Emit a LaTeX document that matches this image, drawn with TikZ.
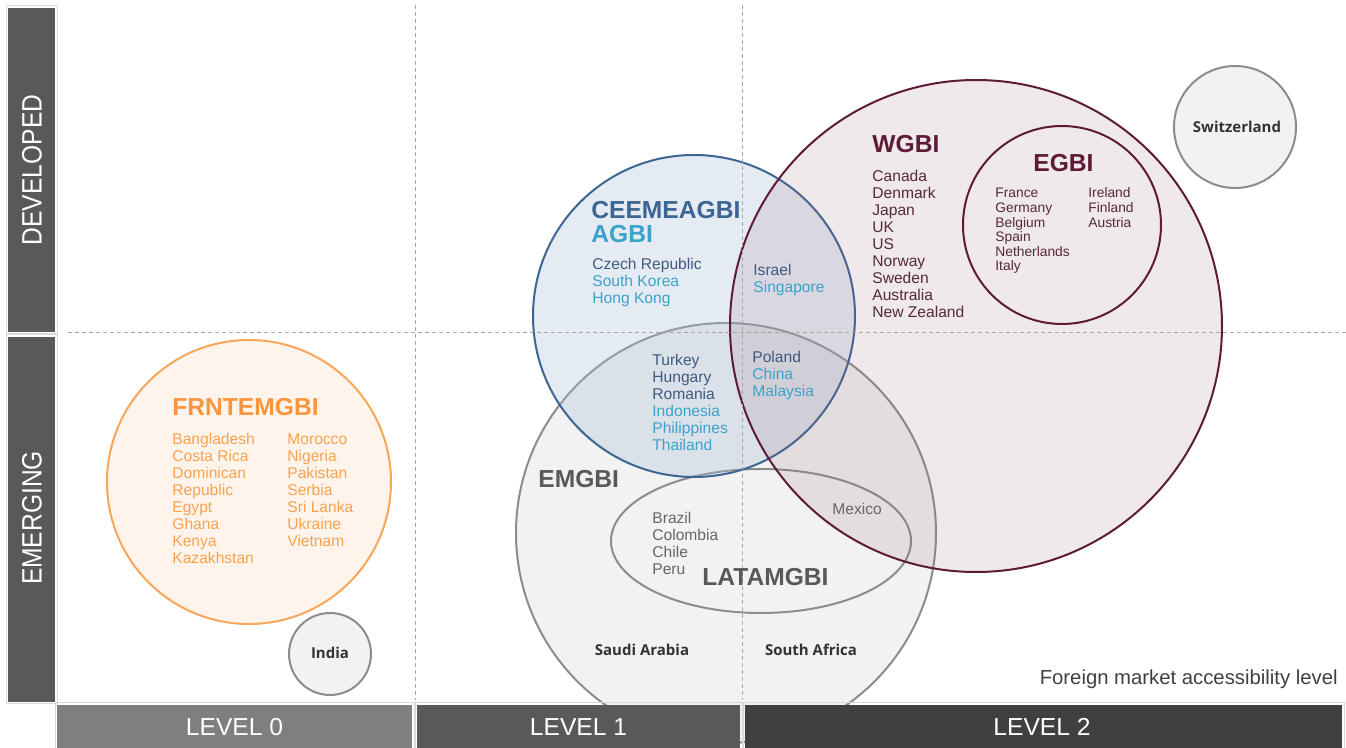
\documentclass[tikz,border=0pt]{standalone}
\usepackage{fontspec}
\setmainfont{Liberation Sans}
\newfontfamily\opensans{Open Sans}
\usetikzlibrary{positioning}

\definecolor{barmid}{HTML}{595959}
\definecolor{barlight}{HTML}{7F7F7F}
\definecolor{bardark}{HTML}{404040}
\definecolor{frntorange}{HTML}{F7963C}
\definecolor{frntlist}{HTML}{F9A24F}
\definecolor{frntfill}{HTML}{FEF4EC}
\definecolor{ceeblue}{HTML}{3C6593}
\definecolor{ceedark}{HTML}{3F5A80}
\definecolor{agbiteal}{HTML}{3CA2CB}
\definecolor{ceefill}{RGB}{168,188,212}
\definecolor{wgbired}{HTML}{5E1B38}
\definecolor{wgbitext}{HTML}{55283D}
\definecolor{wgbifill}{RGB}{150,105,122}
\definecolor{emgray}{HTML}{595959}
\definecolor{ctrygray}{HTML}{666666}
\definecolor{ringgray}{HTML}{8C8C8C}
\definecolor{ringfill}{HTML}{F2F2F2}

\begin{document}
\begin{tikzpicture}[x=0.5pt,y=-0.5pt,
  lst/.style={anchor=base west,inner sep=0pt,font=\fontsize{7.8}{8.5}\selectfont},
  egbilst/.style={anchor=base west,inner sep=0pt,text=wgbitext,font=\fontsize{6.9}{7.3}\selectfont},
  heading/.style={anchor=base west,inner sep=0pt,font=\fontsize{12.3}{13}\selectfont\bfseries},
  boldlbl/.style={anchor=base,inner sep=0pt,text=black!80,font=\fontsize{7.5}{8}\selectfont\opensans\bfseries},
  levellbl/.style={anchor=base,inner sep=0pt,text=white,font=\fontsize{12.3}{13}\selectfont},
  sidelbl/.style={rotate=90,inner sep=0pt,text=white,font=\fontsize{12.3}{13}\selectfont},
  gridline/.style={draw=black!35,line width=0.5pt,dash pattern=on 2pt off 1.5pt},
  ring/.style={line width=1pt},
  framebox/.style={draw=black!15,line width=0.5pt}
]
\useasboundingbox (0,0) rectangle (1346,748);
% single index circles
\draw[ring,draw=frntorange!85,fill=frntfill] (249,482) circle[radius=142];
\draw[ring,draw=ringgray,fill=ringfill] (330,654) circle[radius=41];
\draw[ring,draw=ringgray,fill=ringfill] (1235,127) circle[radius=61];
% overlapping indices
\draw[ring,draw=ringgray,fill=ringfill] (726,533) circle[radius=210]; %EMGBI
\draw[ring,draw=ringgray] (761,541) ellipse[x radius=150,y radius=72]; %LATAMGBI
\draw[ring,draw=ceeblue,fill=ceefill,fill opacity=0.3] (694,316) circle[radius=161]; %CEEMEAGBI
\draw[ring,draw=wgbired,fill=wgbifill,fill opacity=0.15] (976,326) circle[radius=246]; %WGBI
\draw[ring,draw=wgbired] (1062,225) circle[radius=99]; %EGBI
% dividing lines
\draw[gridline] (415,5)--(415,700);
\draw[gridline] (742,5)--(742,700);
\draw[gridline] (68,333)--(1346,333);
% axis bars
\fill[barmid] (8,8) rectangle (55,332);
\draw[framebox] (6,6) rectangle (57,334);
\fill[barmid] (8,337) rectangle (55,702);
\draw[framebox] (6,335) rectangle (57,704);
\fill[barlight] (57,705) rectangle (412,748);
\draw[framebox] (55,703) rectangle (414,750);
\fill[barmid] (417,705) rectangle (740,748);
\draw[framebox] (415,703) rectangle (742,750);
\fill[bardark] (745,705) rectangle (1342,748);
\draw[framebox] (743,703) rectangle (1344,750);
\node[sidelbl] (dev) at (32,170) {\scalebox{1}[1.14]{DEVELOPED}};
\node[sidelbl] (emg) at (32,518) {\scalebox{1}[1.14]{EMERGING}};
\node[levellbl] (lvl0) at (234.5,736) {LEVEL 0};
\node[levellbl] (lvl1) at (578.5,736) {LEVEL 1};
\node[levellbl] (lvl2) at (1042,736) {LEVEL 2};
\node[anchor=base east,inner sep=0pt,text=bardark,font=\fontsize{10.15}{11}\selectfont] (axis) at (1338,685) {Foreign market accessibility level};
% FRNTEMGBI
\node[heading,text=frntorange] (frnt) at (172,416) {FRNTEMGBI};
\node[lst,text=frntlist] (bgd) at (172,445) {Bangladesh};
\node[lst,text=frntlist] (cri) at (172,462) {Costa Rica};
\node[lst,text=frntlist] (dom) at (172,479) {Dominican};
\node[lst,text=frntlist] (rep) at (172,496) {Republic};
\node[lst,text=frntlist] (egy) at (172,513) {Egypt};
\node[lst,text=frntlist] (gha) at (172,530) {Ghana};
\node[lst,text=frntlist] (ken) at (172,547) {Kenya};
\node[lst,text=frntlist] (kaz) at (172,564) {Kazakhstan};
\node[lst,text=frntlist] (mar) at (287,445) {Morocco};
\node[lst,text=frntlist] (nga) at (287,462) {Nigeria};
\node[lst,text=frntlist] (pak) at (287,479) {Pakistan};
\node[lst,text=frntlist] (srb) at (287,496) {Serbia};
\node[lst,text=frntlist] (lka) at (287,513) {Sri Lanka};
\node[lst,text=frntlist] (ukr) at (287,530) {Ukraine};
\node[lst,text=frntlist] (vnm) at (287,547) {Vietnam};
\node[boldlbl] (ind) at (330,659) {India};
% CEEMEAGBI and AGBI
\node[heading,text=ceeblue] (cee) at (591,219) {CEEMEAGBI};
\node[heading,text=agbiteal] (agbi) at (591,243) {AGBI};
\node[lst,text=ceedark] (cze) at (592,270) {Czech Republic};
\node[lst,text=agbiteal] (kor) at (592,287) {South Korea};
\node[lst,text=agbiteal] (hkg) at (592,304) {Hong Kong};
\node[lst,text=ceedark] (isr) at (753,276) {Israel};
\node[lst,text=agbiteal] (sgp) at (753,293) {Singapore};
\node[lst,text=ceedark] (tur) at (652,366) {Turkey};
\node[lst,text=ceedark] (hun) at (652,383) {Hungary};
\node[lst,text=ceedark] (rou) at (652,400) {Romania};
\node[lst,text=agbiteal] (idn) at (652,417) {Indonesia};
\node[lst,text=agbiteal] (phl) at (652,434) {Philippines};
\node[lst,text=agbiteal] (tha) at (652,451) {Thailand};
\node[lst,text=ceedark] (pol) at (752,363) {Poland};
\node[lst,text=agbiteal] (chn) at (752,380) {China};
\node[lst,text=agbiteal] (mys) at (752,397) {Malaysia};
% EMGBI and LATAMGBI
\node[heading,text=emgray] (emgbi) at (538,488) {EMGBI};
\node[heading,text=emgray] (latam) at (702,586) {LATAMGBI};
\node[lst,text=ctrygray] (bra) at (652,524) {Brazil};
\node[lst,text=ctrygray] (col) at (652,541) {Colombia};
\node[lst,text=ctrygray] (chl) at (652,558) {Chile};
\node[lst,text=ctrygray] (per) at (652,575) {Peru};
\node[lst,text=ctrygray] (mex) at (832,515) {Mexico};
\node[boldlbl] (sau) at (642,656) {Saudi Arabia};
\node[boldlbl] (zaf) at (811,656) {South Africa};
% WGBI and EGBI
\node[heading,text=wgbired] (wgbi) at (872,153) {WGBI};
\node[lst,text=wgbitext] (can) at (872,182) {Canada};
\node[lst,text=wgbitext] (dnk) at (872,199) {Denmark};
\node[lst,text=wgbitext] (jpn) at (872,216) {Japan};
\node[lst,text=wgbitext] (gbr) at (872,233) {UK};
\node[lst,text=wgbitext] (usa) at (872,250) {US};
\node[lst,text=wgbitext] (nor) at (872,267) {Norway};
\node[lst,text=wgbitext] (swe) at (872,284) {Sweden};
\node[lst,text=wgbitext] (aus) at (872,301) {Australia};
\node[lst,text=wgbitext] (nzl) at (872,318) {New Zealand};
\node[heading,text=wgbired] (egbi) at (1033,172) {EGBI};
\node[egbilst] (fra) at (995,198) {France};
\node[egbilst] (deu) at (995,212.6) {Germany};
\node[egbilst] (bel) at (995,227.2) {Belgium};
\node[egbilst] (esp) at (995,241.8) {Spain};
\node[egbilst] (nld) at (995,256.4) {Netherlands};
\node[egbilst] (ita) at (995,271) {Italy};
\node[egbilst] (irl) at (1088,198) {Ireland};
\node[egbilst] (fin) at (1088,212.6) {Finland};
\node[egbilst] (aut) at (1088,227.2) {Austria};
\node[boldlbl] (che) at (1237,133) {Switzerland};
\end{tikzpicture}
\end{document}
